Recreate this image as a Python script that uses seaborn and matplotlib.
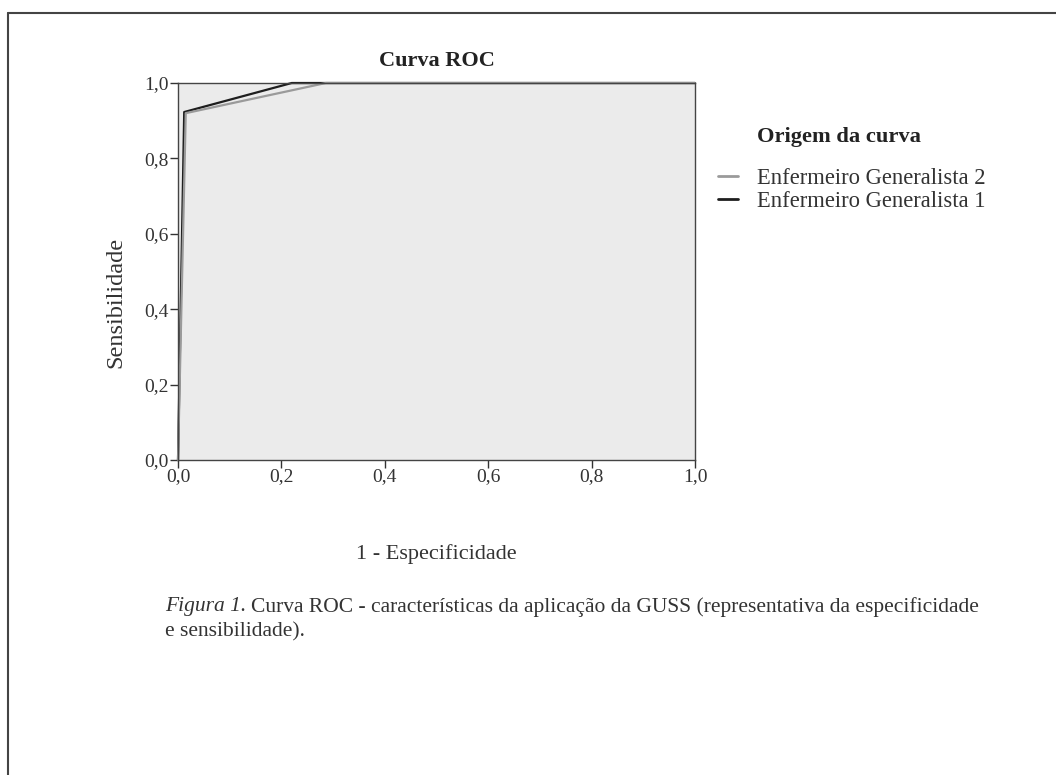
import matplotlib
matplotlib.use("Agg")
import matplotlib.pyplot as plt
import numpy as np
import pandas as pd
import seaborn as sns
from matplotlib.lines import Line2D

# ROC points
fpr_g1 = [0.0, 0.012, 0.22, 1.0]
tpr_g1 = [0.0, 0.923, 1.0, 1.0]
fpr_g2 = [0.0, 0.015, 0.286, 1.0]
tpr_g2 = [0.0, 0.920, 1.0, 1.0]
series = ["Enfermeiro Generalista 2", "Enfermeiro Generalista 1"]
tick_vals = [0.0, 0.2, 0.4, 0.6, 0.8, 1.0]
tick_labels = ["0,0", "0,2", "0,4", "0,6", "0,8", "1,0"]

df = pd.concat([
    pd.DataFrame({"fpr": fpr_g2, "tpr": tpr_g2, "origem": series[0]}),
    pd.DataFrame({"fpr": fpr_g1, "tpr": tpr_g1, "origem": series[1]}),
], ignore_index=True)

sns.set_theme(style="white")
plt.rcParams["font.family"] = ["Liberation Serif", "DejaVu Serif"]

W, H = 1056, 775
fig = plt.figure(figsize=(W / 100, H / 100), dpi=100)
ax = fig.add_axes([178 / W, 1 - 460 / H, 517 / W, 377 / H])
ax.set_facecolor("#ebebeb")

palette = {series[0]: "#9a9a9a", series[1]: "#1e1e1e"}
sns.lineplot(data=df, x="fpr", y="tpr", hue="origem", hue_order=series[::-1],
             palette=palette, sort=False, estimator=None, linewidth=1.6,
             ax=ax, legend=False)
for ln in ax.lines:
    ln.set_clip_on(False)

ax.set_xlim(0, 1)
ax.set_ylim(0, 1)
ax.set_xticks(tick_vals)
ax.set_xticklabels(tick_labels)
ax.set_yticks(tick_vals)
ax.set_yticklabels(tick_labels)
ax.tick_params(axis="both", which="major", direction="out", length=6, width=1,
               color="#333333", labelsize=14, labelcolor="#333333", pad=1,
               bottom=True, left=True)
ax.tick_params(axis="x", pad=0)
for s in ax.spines.values():
    s.set_color("#444444")
    s.set_linewidth(1)

ax.set_title("Curva ROC", fontsize=16, fontweight="bold", color="#222222", pad=12)
ax.set_xlabel("1 - Especificidade", fontsize=16, color="#333333", labelpad=42)
ax.set_ylabel("Sensibilidade", fontsize=17.5, color="#333333")
ax.yaxis.set_label_coords(-0.099, 0.419)

# legend, title placed on its own (it is indented past the handles)
fig.text(757 / W, 1 - 137 / H, "Origem da curva", fontsize=16.2, fontweight="bold",
         color="#222222", va="center")
handles = [Line2D([], [], color=palette[s], linewidth=2) for s in series]
leg = fig.legend(handles, series, loc="upper left",
                 bbox_to_anchor=(702 / W, 1 - 152 / H),
                 frameon=False, fontsize=16.3, handlelength=0.9, handletextpad=0.85,
                 labelspacing=0.1, borderpad=0.2)
for t in leg.get_texts():
    t.set_color("#333333")

# page frame (extends past the right and bottom edges)
fig.add_artist(Line2D([8 / W, 8 / W], [0.0, 1 - 13 / H], transform=fig.transFigure,
                      color="#444444", linewidth=1.5))
fig.add_artist(Line2D([8 / W, 1.0], [1 - 13 / H, 1 - 13 / H], transform=fig.transFigure,
                      color="#444444", linewidth=1.5))

# caption
cap_y = 1 - 607 / H
t1 = fig.text(165 / W, cap_y, "Figura 1.", fontsize=15.5, style="italic",
              color="#333333", va="center")
fig.canvas.draw()
bb = t1.get_window_extent(renderer=fig.canvas.get_renderer())
x2 = (bb.x1 + 5) / fig.bbox.width
fig.text(x2, cap_y,
         "Curva ROC - características da aplicação da GUSS (representativa da especificidade",
         fontsize=15.5, color="#333333", va="center")
fig.text(165 / W, 1 - 632 / H, "e sensibilidade).", fontsize=15.5,
         color="#333333", va="center")

fig.savefig("out.png", dpi=100)
